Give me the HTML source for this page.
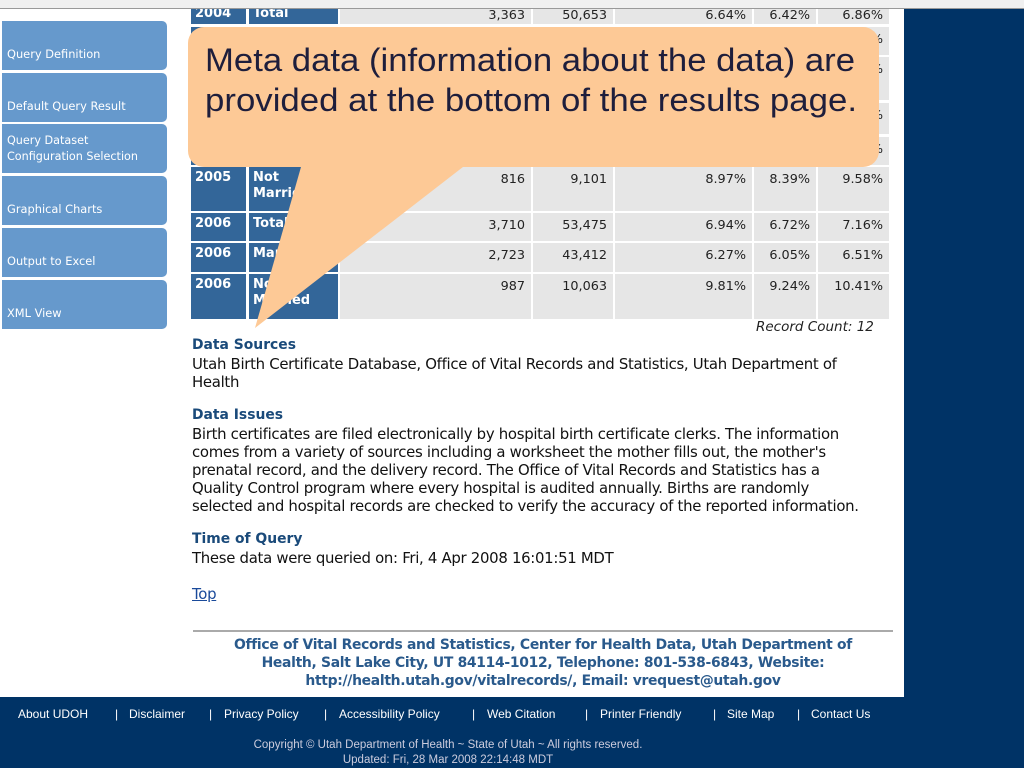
<!DOCTYPE html>
<html><head><meta charset="utf-8">
<style>
*{margin:0;padding:0;box-sizing:border-box}
body{width:1024px;height:768px;position:relative;overflow:hidden;background:#fff;font-family:"Liberation Sans",sans-serif}
.abs{position:absolute}
.nav{position:absolute;left:2px;width:165px;height:49px;background:#6699cc;border-radius:0 5px 5px 0;color:#fff;font-family:"DejaVu Sans",sans-serif;font-size:11.4px;padding:0 5px;display:flex;align-items:flex-end;padding-bottom:8px;line-height:16px;white-space:nowrap}
.c{position:absolute;color:#222;white-space:nowrap}
.hd{background:#336699;color:#fff;font-weight:bold;font-family:"DejaVu Sans",sans-serif;font-size:13px;padding:3px 4px;position:absolute;line-height:16px;overflow:hidden;white-space:nowrap}
.g{background:#e6e6e6;position:absolute}
.num{position:absolute;text-align:right;font-family:"DejaVu Sans",sans-serif;font-size:12.8px;color:#222;padding-top:5px}
h4{position:absolute;left:192px;font-family:"DejaVu Sans",sans-serif;font-size:13.9px;color:#1a4a7a;font-weight:bold}
.p{position:absolute;left:192px;font-family:"DejaVu Sans",sans-serif;font-size:14.9px;color:#111;line-height:18px;width:712px;white-space:nowrap;letter-spacing:-0.3px}
.fl{position:absolute;top:707px;color:#fff;font-size:12px;white-space:nowrap}
</style></head><body>
<div class="abs" style="left:904px;top:0;width:120px;height:768px;background:#003366"></div>

<div id="tbl"></div>

<div class="abs" style="left:0;top:0;width:1024px;height:9px;background:#f0f0f0;border-bottom:1px solid #999"></div>

<div class="nav" style="top:21px">Query Definition</div>
<div class="nav" style="top:73px">Default Query Result</div>
<div class="nav" style="top:124px;font-size:11.2px;padding-right:0">Query Dataset<br>Configuration Selection</div>
<div class="nav" style="top:176px">Graphical Charts</div>
<div class="nav" style="top:228px">Output to Excel</div>
<div class="nav" style="top:280px">XML View</div>

<svg class="abs" style="left:0;top:0" width="1024" height="768">
<rect x="188" y="27" width="691" height="140" rx="16" fill="#fdc996"/>
<polygon points="303,160 472,160 255,328" fill="#fdc996"/>
<text x="205" y="71" font-family="Liberation Sans, sans-serif" font-size="32" fill="#1e1e3c" textLength="650" lengthAdjust="spacingAndGlyphs">Meta data (information about the data) are</text>
<text x="205" y="111" font-family="Liberation Sans, sans-serif" font-size="32" fill="#1e1e3c" textLength="652" lengthAdjust="spacingAndGlyphs">provided at the bottom of the results page.</text>
</svg>

<div class="c" style="left:756px;top:319px;font-style:italic;font-family:'DejaVu Sans',sans-serif;font-size:13.5px">Record Count: 12</div>

<h4 style="top:337px">Data Sources</h4>
<div class="p" style="top:355px">Utah Birth Certificate Database, Office of Vital Records and Statistics, Utah Department of<br>Health</div>
<h4 style="top:407px">Data Issues</h4>
<div class="p" style="top:425px">Birth certificates are filed electronically by hospital birth certificate clerks. The information<br>comes from a variety of sources including a worksheet the mother fills out, the mother's<br>prenatal record, and the delivery record. The Office of Vital Records and Statistics has a<br>Quality Control program where every hospital is audited annually. Births are randomly<br>selected and hospital records are checked to verify the accuracy of the reported information.</div>
<h4 style="top:531px">Time of Query</h4>
<div class="p" style="top:549px">These data were queried on: Fri, 4 Apr 2008 16:01:51 MDT</div>
<div class="p" style="top:585px;color:#1a4a9a;text-decoration:underline;width:auto">Top</div>

<div class="abs" style="left:193px;top:630px;width:700px;height:2px;background:#aaa"></div>
<div class="abs" style="left:193px;top:636px;width:700px;text-align:center;color:#2a5a8c;font-weight:bold;font-family:'DejaVu Sans',sans-serif;font-size:13.9px;letter-spacing:-0.3px;line-height:18px;white-space:nowrap">Office of Vital Records and Statistics, Center for Health Data, Utah Department of<br>Health, Salt Lake City, UT 84114-1012, Telephone: 801-538-6843, Website:<br>http://health.utah.gov/vitalrecords/, Email: vrequest@utah.gov</div>

<div class="abs" style="left:0;top:697px;width:1024px;height:71px;background:#003366"></div>
<div class="fl" style="left:18px">About UDOH</div>
<div class="fl" style="left:115px">|</div>
<div class="fl" style="left:129px">Disclaimer</div>
<div class="fl" style="left:209px">|</div>
<div class="fl" style="left:224px">Privacy Policy</div>
<div class="fl" style="left:324px">|</div>
<div class="fl" style="left:339px">Accessibility Policy</div>
<div class="fl" style="left:472px">|</div>
<div class="fl" style="left:487px">Web Citation</div>
<div class="fl" style="left:585px">|</div>
<div class="fl" style="left:600px">Printer Friendly</div>
<div class="fl" style="left:713px">|</div>
<div class="fl" style="left:727px">Site Map</div>
<div class="fl" style="left:797px">|</div>
<div class="fl" style="left:811px">Contact Us</div>
<div class="abs" style="left:0;top:738px;width:896px;text-align:center;color:#ccd;font-size:11.5px;line-height:15px">Copyright © Utah Department of Health ~ State of Utah ~ All rights reserved.<br>Updated: Fri, 28 Mar 2008 22:14:48 MDT</div>

<script>
const years=["2004","","","","","2005","2006","2006","2006"];
const labels=["Total","","","","","Not<br>Married","Total","Married","Not<br>Married"];
const counts=["3,363","","","","","816","3,710","2,723","987"];
const totals=["50,653","","","","","9,101","53,475","43,412","10,063"];
const pct=["6.64%","","","","","8.97%","6.94%","6.27%","9.81%"];
const lo=["6.42%","","","","","8.39%","6.72%","6.05%","9.24%"];
const hi=["6.86%","%","%","%","%","9.58%","7.16%","6.51%","10.41%"];
const rowTop=[3,27,57,103,137,167,213,243,274];
const rowBot=[24,55,100,134,165,211,241,272,319];
const cols=[[340,531],[533,613],[615,752],[754,816],[818,889]];
const t=document.getElementById('tbl');
for(let i=0;i<years.length;i++){
  const top=rowTop[i],h=rowBot[i]-rowTop[i];
  const a=document.createElement('div');a.className='hd';
  
  
  a.style.cssText=`left:191px;top:${top}px;width:55px;height:${h}px`;a.textContent=years[i];t.appendChild(a);
  const b=document.createElement('div');b.className='hd';
  
  
  b.style.cssText=`left:249px;top:${top}px;width:89px;height:${h}px`;b.innerHTML=labels[i];t.appendChild(b);
  const vals=[counts[i],totals[i],pct[i],lo[i],hi[i]];
  cols.forEach((c,j)=>{
    const g=document.createElement('div');g.className='g';
    
    
    g.style.cssText=`left:${c[0]}px;top:${top}px;width:${c[1]-c[0]}px;height:${h}px`;t.appendChild(g);
    const n=document.createElement('div');n.className='num';
    
    
    n.style.cssText=`left:${c[0]}px;top:${top}px;width:${c[1]-c[0]-6}px`;n.textContent=vals[j];t.appendChild(n);
  });
}
</script>
</body></html>
